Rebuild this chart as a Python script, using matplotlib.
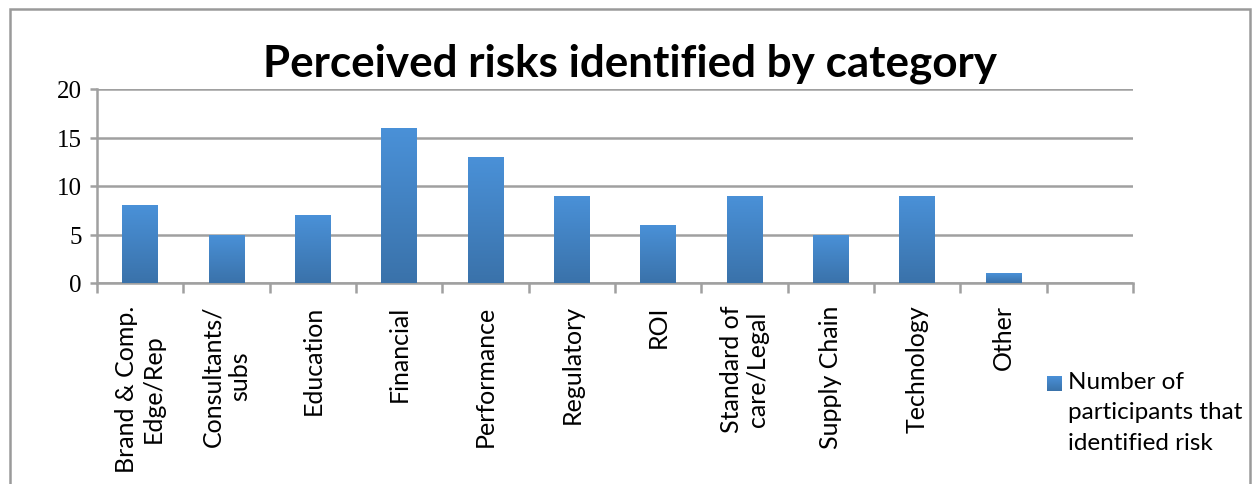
import matplotlib
matplotlib.use("Agg")
import matplotlib.pyplot as plt
import numpy as np
from matplotlib.patches import Rectangle
from matplotlib.colors import LinearSegmentedColormap

categories = ["Brand & Comp.\nEdge/Rep", "Consultants/\nsubs", "Education", "Financial",
              "Performance", "Regulatory", "ROI", "Standard of\ncare/Legal",
              "Supply Chain", "Technology", "Other", ""]
values = [8, 5, 7, 16, 13, 9, 6, 9, 5, 9, 1, 0]
series_name = "Number of\nparticipants that\nidentified risk"
title = "Perceived risks identified by category"

W, H = 1252, 485
fig = plt.figure(figsize=(W/100, H/100), dpi=100)
fig.patch.set_facecolor("white")

# outer frame
frame = Rectangle((9.5/W, -0.05), (1250-9.5)/W, (H-9.5)/H + 0.05, transform=fig.transFigure,
                  fill=False, edgecolor="#9a9a9a", linewidth=1.8)
fig.patches.append(frame)

ax = fig.add_axes([97/W, (H-284)/H, (1133-97)/W, (284-90)/H])
n = len(categories)
x = np.arange(n)

cmap = LinearSegmentedColormap.from_list("g", ["#3a72aa", "#4a91d8"])
grad = np.linspace(0, 1, 256).reshape(-1, 1)
bw = 0.41
for xi, v in zip(x, values):
    if v <= 0:
        continue
    r = Rectangle((xi - bw/2, 0), bw, v, facecolor="none", edgecolor="none")
    ax.add_patch(r)
    im = ax.imshow(grad, cmap=cmap, aspect="auto", origin="lower",
                   extent=(xi - bw/2, xi + bw/2, 0, v), zorder=3, interpolation="bilinear")
    im.set_clip_path(r)
ax.set_xlim(-0.5, n - 0.5)
ax.set_ylim(0, 20)

ax.set_yticks([0, 5, 10, 15, 20])
ax.set_yticklabels(["0", "5", "10", "15", "20"], fontfamily="Liberation Serif", fontsize=18)
ax.yaxis.grid(True, color="#a0a0a0", linewidth=1.8, zorder=0)
ax.set_axisbelow(True)
ax.tick_params(axis="y", length=5, width=1.8, color="#a0a0a0", pad=6)

ax.set_xticks(np.arange(-0.5, n, 1.0))
ax.set_xticklabels([])
ax.tick_params(axis="x", length=7, width=1.8, color="#a0a0a0", direction="out")
for xi, lab in zip(x, categories):
    if lab:
        ax.text(xi, -2.2, lab, rotation=90, ha="center", va="top", multialignment="center",
                fontfamily="Lato", fontsize=18, color="black", linespacing=1.2)

for s in ["top", "right"]:
    ax.spines[s].set_visible(False)
ax.spines["left"].set_color("#a0a0a0")
ax.spines["left"].set_linewidth(1.8)
ax.spines["bottom"].set_color("#a0a0a0")
ax.spines["bottom"].set_linewidth(1.8)

fig.text(630/W, 1 - 64/H, title, ha="center", va="center", fontfamily="Lato",
         fontweight="bold", fontsize=31.7)

# legend
lx0, ly0 = 1047, 377
leg_grad_ax = fig.add_axes([lx0/W, 1 - (ly0 + 15)/H, 15/W, 15/H])
leg_grad_ax.imshow(grad, cmap=cmap, aspect="auto", origin="lower")
leg_grad_ax.axis("off")
fig.text(1068/W, 1 - 372/H, series_name, ha="left", va="top", fontfamily="Lato",
         fontsize=17.5, linespacing=1.55)

fig.savefig("out.png", dpi=100, facecolor="white")
